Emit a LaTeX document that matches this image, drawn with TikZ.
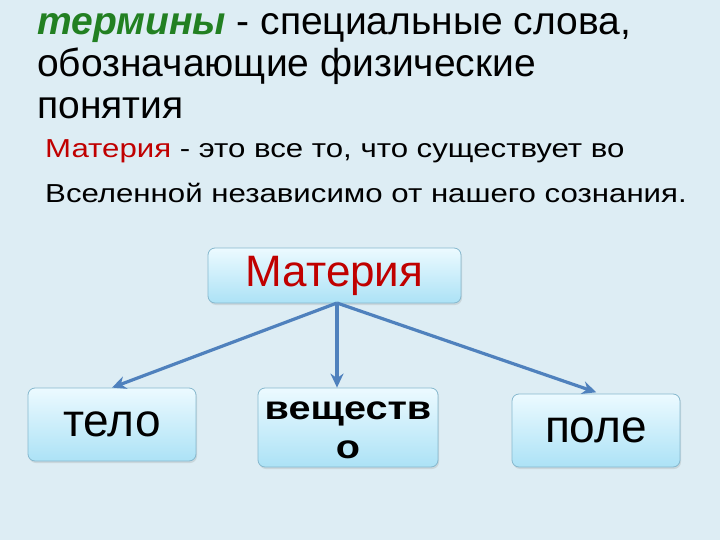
\documentclass[tikz,border=0pt]{standalone}
\usepackage{fontspec}
\setmainfont{Liberation Sans}
\newfontfamily\widefont{Liberation Sans}[FakeStretch=1.2]
\usetikzlibrary{positioning, arrows.meta, shadows}

\definecolor{bgblue}{RGB}{221,237,244}
\definecolor{termgreen}{RGB}{34,128,34}
\definecolor{matred}{RGB}{192,0,0}
\definecolor{boxline}{RGB}{134,184,206}
\definecolor{boxtop}{RGB}{236,250,255}
\definecolor{boxbottom}{RGB}{172,226,246}
\definecolor{arrowblue}{RGB}{79,129,189}

\tikzset{
  box/.style={draw=boxline, line width=0.8pt, rounded corners=7pt,
    top color=boxtop, bottom color=boxbottom,
    drop shadow={opacity=0.2, shadow xshift=1pt, shadow yshift=-2pt},
    inner sep=0pt},
  link/.style={draw=arrowblue, line width=3.2pt}
}

\begin{document}
\begin{tikzpicture}[x=1pt, y=-1pt, >={Stealth[length=14pt, width=13pt]}]
  \fill [bgblue] (0,0) rectangle (720,540);
  \useasboundingbox (0,0) rectangle (720,540);
  % heading (base = last line)
  \node [anchor=base west, inner sep=0pt, align=left,
         font=\fontsize{39}{42}\selectfont] (head) at (37,119)
    {{\color{termgreen}\bfseries\itshape термины} - специальные слова,\\
     обозначающие физические\\понятия};
  \node [anchor=base west, inner sep=0pt, align=left,
         font=\widefont\fontsize{26}{45}\selectfont] (def) at (45,203)
    {{\color{matred}Материя} - это все то, что существует во\\
     Вселенной независимо от нашего сознания.};
  % boxes
  \node [box, minimum width=253pt, minimum height=55pt,
         font=\fontsize{44}{48}\selectfont\color{matred}] (top) at (334.5,275.5) {Материя};
  \node [box, minimum width=168pt, minimum height=73pt,
         font=\fontsize{46}{48}\selectfont] (left) at (112,424.5) {тело};
  \node [box, minimum width=180pt, minimum height=79pt] (mid) at (348,427.5) {};
  \node [align=center, inner sep=0pt, anchor=base,
         font=\widefont\fontsize{33}{39}\selectfont\bfseries] (midtext) at (348,458) {веществ\\о};
  \node [box, minimum width=168pt, minimum height=73pt,
         font=\fontsize{46}{48}\selectfont] (right) at (596,430.5) {поле};
  % arrows
  \coordinate (fork) at (337,303);
  \draw [->, link] (fork) -- (left.north);
  \draw [->, link] (fork) -- ([xshift=-11pt]mid.north);
  \draw [->, link, shorten >=4pt] (fork) -- ([xshift=4pt]right.north);
\end{tikzpicture}
\end{document}
